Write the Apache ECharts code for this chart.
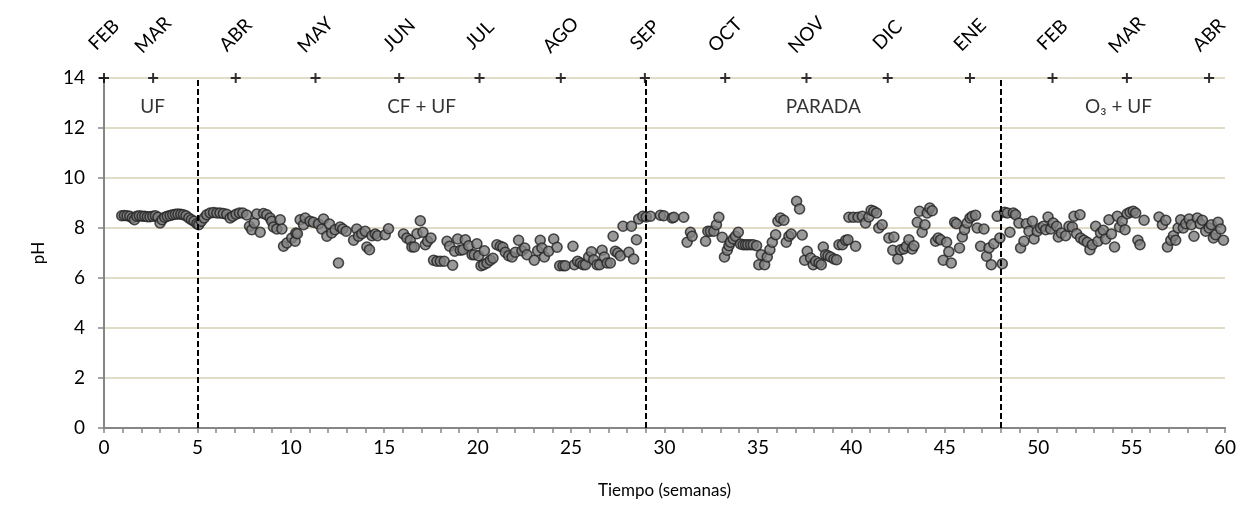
<!DOCTYPE html>
<html>
<head>
<meta charset="utf-8">
<script src="https://cdn.jsdelivr.net/npm/echarts@6/dist/echarts.min.js"></script>
<style>
  html, body { margin: 0; padding: 0; background: #fff; }
  #chart { width: 1239px; height: 510px; }
</style>
</head>
<body>
<div id="chart"></div>
<script>
// pH measurements per operating phase: week number and pH value
const ufWeeks = [0.95,1.09,1.23,1.38,1.52,1.63,1.75,1.89,2.04,2.18,2.32,2.46,2.61,2.75,2.89,3.0,3.11,3.25,3.39,3.54,3.68,3.82,3.96,4.11,4.25,4.39,4.54,4.68,4.82,4.97];
const ufPH    = [8.49,8.5,8.49,8.47,8.4,8.33,8.47,8.49,8.47,8.47,8.45,8.45,8.47,8.49,8.43,8.2,8.33,8.43,8.47,8.5,8.53,8.55,8.56,8.55,8.53,8.49,8.4,8.33,8.27,8.17];

const cfWeeks = [5.07,5.21,5.36,5.5,5.68,5.86,6.04,6.21,6.39,6.57,6.75,6.89,7.07,7.25,7.43,7.64,7.79,7.91,8.04,8.18,8.36,8.54,8.71,8.89,8.98,9.07,9.25,9.43,9.52,9.61,9.79,
  10.05,10.23,10.27,10.35,10.5,10.68,10.77,11.03,11.21,11.48,11.66,11.75,11.93,12.07,12.19,12.37,12.55,12.64,12.78,12.96,13.36,13.53,13.62,13.8,13.98,14.07,14.21,14.34,14.52,14.64,15.05,15.23,
  16.03,16.21,16.39,16.48,16.61,16.75,16.93,17.07,17.2,17.32,17.5,17.64,17.82,18.0,18.21,18.36,18.5,18.66,18.77,18.93,19.07,19.21,19.34,19.52,19.7,19.82,19.96,20.05,20.18,20.36,
  20.32,20.5,20.68,20.82,21.03,21.21,21.35,21.48,21.66,21.84,22.02,22.19,22.37,22.52,22.64,23.03,23.21,23.35,23.44,23.57,23.8,24.07,24.25,24.39,24.57,24.69,25.1,25.18,25.35,25.5,25.64,25.77,25.94,
  26.09,26.21,26.39,26.53,26.66,26.78,26.93,27.1,27.25,27.37,27.5,27.64,27.78,28.09,28.23,28.35,28.5,28.62,28.84];
const cfPH    = [8.13,8.27,8.4,8.53,8.6,8.62,8.6,8.6,8.58,8.55,8.4,8.47,8.55,8.6,8.6,8.52,8.07,7.93,8.2,8.56,7.83,8.58,8.53,8.4,8.27,8.04,7.96,8.33,7.96,7.27,7.4,
  7.6,7.47,7.8,7.77,8.33,8.13,8.4,8.27,8.23,8.16,7.96,8.36,7.67,8.16,7.8,7.93,6.6,8.04,7.96,7.87,7.51,7.96,7.67,7.77,7.87,7.24,7.13,7.69,7.76,7.69,7.73,7.97,
  7.76,7.6,7.51,7.24,7.24,7.77,8.29,7.83,7.33,7.47,7.6,6.71,6.67,6.67,6.67,7.47,7.27,6.51,7.07,7.56,7.11,7.13,7.53,7.29,6.93,6.93,7.37,6.89,6.49,7.09,
  6.53,6.6,6.71,6.79,7.33,7.27,7.23,7.03,6.89,6.84,7.03,7.51,7.09,7.2,6.93,6.71,7.09,7.51,7.2,6.84,7.07,7.56,7.23,6.49,6.49,6.49,7.27,6.53,6.67,6.6,6.53,6.53,6.84,
  7.05,6.73,6.53,6.53,7.11,6.84,6.6,6.6,7.67,7.07,7.0,6.89,8.07,7.03,8.07,6.76,7.53,8.36,8.47];

const stopWeeks = [29.02,29.25,29.78,29.96,30.41,30.5,31.03,31.21,31.39,31.48,32.2,32.32,32.46,32.64,32.78,32.91,33.09,33.21,33.36,33.45,33.53,33.68,33.8,33.95,34.07,34.21,34.34,34.46,34.61,34.75,34.93,
  35.05,35.18,35.36,35.5,35.64,35.77,35.95,36.07,36.21,36.39,36.52,36.66,36.78,37.07,37.23,37.37,37.5,37.64,37.82,37.96,38.09,38.27,38.39,38.5,38.62,38.75,38.89,39.07,39.21,39.34,39.52,39.7,39.82,39.87,
  40.11,40.23,40.36,40.59,40.76,40.94,41.06,41.2,41.35,41.47,41.65,42.01,42.22,42.28,42.49,42.63,42.81,42.95,43.08,43.26,43.35,43.53,43.65,43.79,43.94,44.06,44.2,44.33,44.51,44.65,44.78,44.92,
  45.1,45.22,45.35,45.53,45.63,45.79,45.94,46.06,46.2,46.35,46.47,46.65,46.74,46.92,47.1,47.24,47.37,47.49,47.63,47.81,47.95];
const stopPH    = [8.44,8.47,8.51,8.49,8.4,8.43,8.43,7.43,7.83,7.67,7.47,7.87,7.87,7.87,8.13,8.43,7.63,6.84,7.11,7.29,7.43,7.56,7.67,7.83,7.36,7.33,7.33,7.33,7.33,7.33,7.29,
  6.53,6.93,6.53,6.84,7.13,7.43,7.73,8.27,8.4,8.31,7.43,7.67,7.76,9.07,8.76,7.72,6.71,7.07,6.8,6.53,6.67,6.6,6.53,7.24,6.93,6.89,6.84,6.76,6.73,7.33,7.33,7.51,7.53,8.43,
  8.43,7.27,8.43,8.47,8.2,8.44,8.71,8.67,8.6,8.0,8.13,7.6,7.11,7.64,6.76,7.13,7.16,7.27,7.53,7.16,7.29,8.23,8.67,7.83,8.13,8.6,8.8,8.69,7.47,7.6,7.53,6.71,
  7.43,7.05,6.6,8.23,8.17,7.2,7.64,7.93,8.2,8.4,8.47,8.51,8.0,7.27,7.96,6.87,7.2,6.53,7.37,8.47,7.6];

const ozWeeks = [48.08,48.2,48.35,48.49,48.67,48.79,48.97,49.06,49.24,49.36,49.51,49.69,49.78,49.95,50.13,50.28,50.4,50.53,50.67,50.81,50.99,51.08,51.24,51.47,51.65,51.83,51.92,
  52.06,52.24,52.27,52.45,52.63,52.77,52.9,53.08,53.2,53.34,53.49,53.61,53.79,53.92,54.09,54.24,54.36,54.5,54.65,54.77,54.92,55.09,55.22,55.34,55.45,55.67,
  56.47,56.65,56.83,56.92,57.1,57.24,57.36,57.49,57.63,57.77,57.9,58.08,58.2,58.34,58.52,58.67,58.79,58.97,59.15,59.27,59.38,59.5,59.63,59.77,59.92];
const ozPH    = [6.57,8.63,8.6,7.83,8.6,8.53,8.2,7.2,7.47,8.17,7.87,8.27,7.56,7.87,8.0,8.07,7.93,8.44,7.96,8.2,8.07,7.64,7.8,7.69,8.07,8.04,8.47,
  7.77,8.53,7.6,7.51,7.43,7.13,7.33,8.07,7.47,7.8,7.91,7.56,8.33,7.76,7.24,8.47,8.04,8.27,7.93,8.57,8.63,8.67,8.6,7.51,7.33,8.31,
  8.44,8.13,8.31,7.24,7.51,7.69,7.51,8.0,8.33,8.0,8.17,8.36,8.13,7.67,8.4,8.17,8.31,7.87,8.0,8.13,7.6,7.73,8.23,7.96,7.51];

// phase boundaries (weeks) and phase captions
const phaseBounds = [5, 29, 48];
const phaseNames = ['UF', 'CF + UF', 'PARADA', 'O₃ + UF'];
const phaseLabelWeeks = [2.6, 17, 38.5, 54.3];
const phaseLabelPH = 12.85;

// calendar months along the top edge
const monthNames = ['FEB','MAR','ABR','MAY','JUN','JUL','AGO','SEP','OCT','NOV','DIC','ENE','FEB','MAR','ABR'];
const monthWeeks = [0, 2.63, 7.05, 11.32, 15.8, 20.1, 24.45, 28.95, 33.25, 37.6, 41.95, 46.35, 50.77, 54.75, 59.15];

const FONT = 'Lato, "Noto Sans", sans-serif';
const AXIS_GREY = '#868686';

const zip = (xs, ys) => xs.map((x, i) => [x, ys[i]]);

const pointStyle = {
  type: 'scatter',
  symbol: 'circle',
  symbolSize: 10,
  itemStyle: { color: '#808080', borderColor: '#222', borderWidth: 1.6 },
  emphasis: { disabled: true },
  silent: true,
  z: 3
};

const chart = echarts.init(document.getElementById('chart'), null, { renderer: 'canvas' });

chart.setOption({
  animation: false,
  backgroundColor: '#fff',
  textStyle: { fontFamily: FONT },
  grid: { left: 104, right: 13, top: 78, bottom: 82, containLabel: false },
  xAxis: [
    {
      type: 'value', min: 0, max: 60, interval: 5, position: 'bottom',
      axisLine: { show: true, lineStyle: { color: AXIS_GREY, width: 2 } },
      axisTick: { show: true, length: 5, lineStyle: { color: AXIS_GREY, width: 1.5 } },
      minorTick: { show: true, splitNumber: 5, length: 5, lineStyle: { color: AXIS_GREY, width: 1.5 } },
      axisLabel: { fontSize: 19, color: '#000', margin: 10, fontFamily: FONT },
      splitLine: { show: false },
      name: 'Tiempo (semanas)', nameLocation: 'middle', nameGap: 54,
      nameTextStyle: { fontSize: 17, color: '#000', fontFamily: FONT }
    },
    {
      // top edge carrying the calendar month names
      type: 'value', min: 0, max: 60, position: 'top',
      axisLine: { show: true, lineStyle: { color: AXIS_GREY, width: 2 } },
      axisTick: { show: false },
      axisLabel: {
        show: true,
        customValues: monthWeeks,
        formatter: v => monthNames[monthWeeks.indexOf(v)],
        rotate: 45, margin: 43, align: 'center', verticalAlign: 'middle',
        fontSize: 19, color: '#000', fontFamily: FONT,
        showMinLabel: true, showMaxLabel: true
      },
      splitLine: { show: false }
    }
  ],
  yAxis: [
    {
      type: 'value', min: 0, max: 14, interval: 2, position: 'left',
      axisLine: { show: true, lineStyle: { color: AXIS_GREY, width: 2 } },
      axisTick: { show: true, length: 6, lineStyle: { color: AXIS_GREY, width: 1.5 } },
      axisLabel: { fontSize: 19, color: '#000', margin: 19, fontFamily: FONT },
      splitLine: { show: true, lineStyle: { color: '#e0dcc8', width: 2 } },
      name: 'pH', nameLocation: 'middle', nameGap: 57, nameRotate: 90,
      nameTextStyle: { fontSize: 17, color: '#000', fontFamily: FONT }
    },
    {
      type: 'value', min: 0, max: 14, position: 'right',
      axisLine: { show: true, lineStyle: { color: AXIS_GREY, width: 2 } },
      axisTick: { show: false }, axisLabel: { show: false }, splitLine: { show: false }
    }
  ],
  series: [
    Object.assign({ name: 'UF', data: zip(ufWeeks, ufPH) }, pointStyle),
    Object.assign({ name: 'CF + UF', data: zip(cfWeeks, cfPH) }, pointStyle),
    Object.assign({ name: 'PARADA', data: zip(stopWeeks, stopPH) }, pointStyle),
    Object.assign({ name: 'O3 + UF', data: zip(ozWeeks, ozPH) }, pointStyle),
    {
      // dashed separators between operating phases
      name: 'phases', type: 'scatter', data: [], silent: true, z: 5,
      markLine: {
        silent: true, symbol: ['none', 'none'], animation: false,
        label: { show: false },
        lineStyle: { color: '#000', width: 2, type: [6, 3] },
        emphasis: { disabled: true },
        data: phaseBounds.map(w => ({ xAxis: w }))
      }
    },
    {
      // phase captions
      name: 'captions', type: 'scatter', silent: true, z: 6,
      symbolSize: 1, itemStyle: { color: 'rgba(0,0,0,0)' },
      data: phaseLabelWeeks.map((w, i) => [w, phaseLabelPH, phaseNames[i]]),
      label: {
        show: true, position: 'inside', formatter: p => p.data[2],
        fontSize: 19, color: '#000', fontFamily: FONT, align: 'center', verticalAlign: 'middle'
      }
    },
    {
      // "+" month marks on the top edge
      name: 'months', type: 'scatter', silent: true, clip: false, z: 7,
      symbol: 'path://M4,0H6V4H10V6H6V10H4V6H0V4H4Z', symbolSize: 10,
      itemStyle: { color: '#000' },
      data: monthWeeks.map(w => [w, 14])
    }
  ]
});
</script>
</body>
</html>
